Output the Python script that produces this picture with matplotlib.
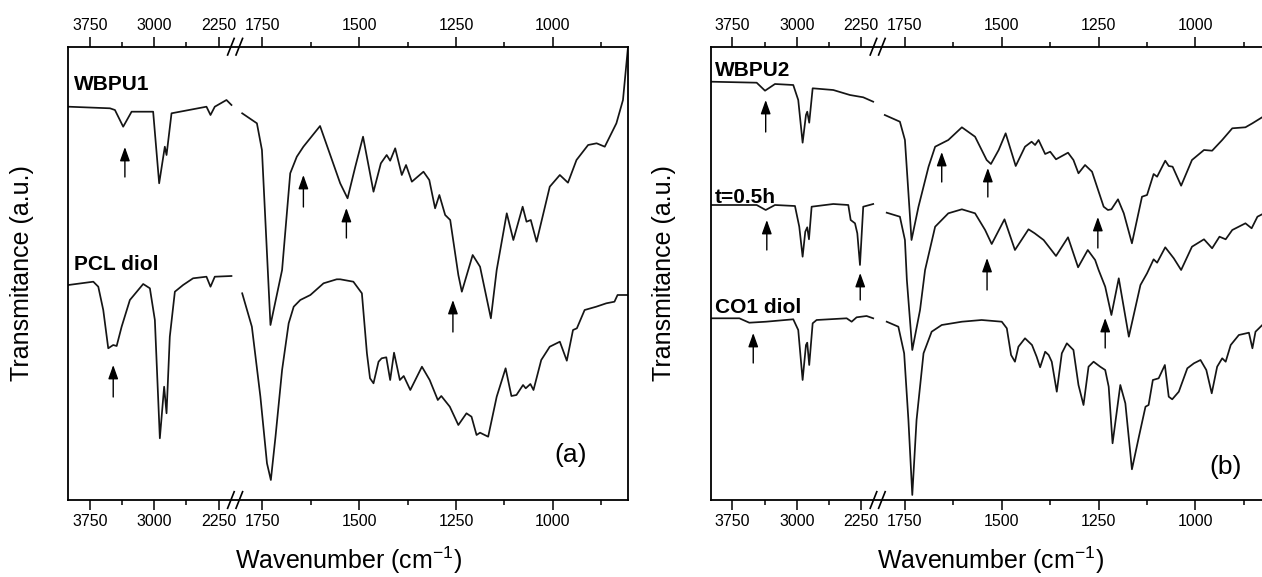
import numpy as np
import matplotlib
matplotlib.use('Agg')
import matplotlib.pyplot as plt
from matplotlib.ticker import FixedLocator, FixedFormatter, NullFormatter

plt.rcParams['font.family'] = ['Liberation Sans', 'DejaVu Sans']
plt.rcParams['mathtext.fontset'] = 'custom'
plt.rcParams['mathtext.rm'] = 'Liberation Sans'
plt.rcParams['mathtext.it'] = 'Liberation Sans:italic'

# ---- spectra (wavenumber in cm-1, transmittance in a.u.) ----
wbpu1_wn = [4000, 3516, 3458, 3362, 3264, 3013, 2943, 2877, 2857, 2799, 2392, 2345, 2295, 2159, 2101,
            1802, 1764, 1751, 1729, 1699, 1678, 1661, 1644, 1601, 1549, 1530, 1510, 1490, 1463, 1444,
            1429, 1420, 1407, 1390, 1379, 1364, 1334, 1319, 1304, 1293, 1278, 1265, 1244, 1235, 1207,
            1188, 1160, 1145, 1119, 1102, 1078, 1068, 1057, 1042, 1008, 982, 961, 939, 909, 887, 866,
            836, 819, 806]
wbpu1_t = [393.3, 391.7, 390, 373.3, 388.3, 388.3, 316.7, 353.3, 345, 386.7, 393.3, 385, 393.3, 400, 395,
           386.7, 376.7, 350, 175, 230, 326.7, 343.3, 353.3, 374, 316.7, 301.7, 333.3, 363.3, 308.3, 336.7,
           345, 339.3, 351.7, 325, 335, 318.3, 328.3, 320, 291.7, 305, 285, 280, 225, 208.3, 245,
           233.3, 181.7, 230, 286.7, 260, 293.3, 278.3, 280, 258.3, 313.3, 325, 317.3, 340, 355, 356.7, 353.3,
           376.7, 400, 453.3]

pcl_wn = [4000, 3710, 3652, 3594, 3536, 3478, 3438, 3380, 3284, 3129, 3051, 2993, 2935, 2885, 2857,
          2819, 2760, 2664, 2548, 2392, 2345, 2295, 2101,
          1802, 1777, 1755, 1738, 1728, 1716, 1699, 1682, 1669, 1652, 1626, 1592, 1558, 1549, 1515,
          1493, 1480, 1472, 1463, 1450, 1442, 1430, 1420, 1410, 1395, 1385, 1368, 1338, 1318, 1297,
          1288, 1266, 1244, 1223, 1210, 1197, 1188, 1167, 1145, 1122, 1107, 1094, 1077, 1070, 1058,
          1050, 1030, 1008, 982, 964, 948, 938, 918, 888, 862, 841, 833, 807]
pcl_t = [215, 218.3, 213.3, 190, 151.7, 155, 154, 173.3, 200, 216, 211.7, 180, 61.7, 113.3, 86.7,
         163.3, 208.3, 215, 221.7, 223.3, 213.3, 223.3, 224,
         206.7, 173.3, 103.3, 36.7, 20, 63.3, 130, 176.7, 193.3, 200, 205, 216.7, 220.7, 220.7, 218.3,
         206.7, 146.7, 121.7, 116.7, 138.3, 141.7, 142.7, 120, 147.3, 120, 124, 110, 133.3, 120, 100,
         104, 93.3, 75, 86.7, 83.3, 65, 67.3, 63.3, 103.3, 131.7, 104, 105, 115, 111.7, 116,
         110, 140, 153.3, 158.3, 139.3, 170, 171.7, 190, 193.3, 196.7, 198.3, 205, 205]

wbpu2_wn = [4000, 3468, 3371, 3255, 3042, 2984, 2933, 2894, 2879, 2856, 2816, 2576, 2382, 2227, 2111,
            1802, 1763, 1750, 1733, 1715, 1689, 1672, 1638, 1603, 1569, 1539, 1528, 1508, 1490, 1464,
            1440, 1423, 1414, 1405, 1388, 1375, 1360, 1329, 1315, 1302, 1285, 1267, 1237, 1226, 1217,
            1200, 1185, 1164, 1138, 1125, 1108, 1099, 1078, 1069, 1059, 1037, 1009, 978, 957, 931, 905,
            871, 853, 828, 805]
wbpu2_t = [418.3, 417.3, 409.3, 416, 415, 400, 357.3, 385, 388.3, 377.3, 411.7, 410, 405, 402.7, 398.3,
           385, 378.3, 360, 260, 293.3, 333.3, 353.3, 360, 372.7, 363.3, 340, 336, 350, 366.7, 334,
           353.3, 358.3, 355, 360, 346, 348.3, 340.7, 347.3, 340, 326.7, 335, 328.3, 293.3, 290, 290.7,
           300.7, 286.7, 256.7, 303.3, 305, 326, 323.3, 339.3, 334, 333.3, 314.3, 340, 350, 349.3, 360, 371.7,
           372.7, 376.7, 382.7, 386]

t05_wn = [4000, 3468, 3363, 3255, 3022, 2972, 2933, 2902, 2879, 2859, 2828, 2576, 2401, 2373, 2323,
          2296, 2265, 2227, 2111,
          1797, 1763, 1750, 1745, 1731, 1711, 1698, 1672, 1638, 1603, 1569, 1543, 1526, 1493, 1466,
          1431, 1415, 1392, 1360, 1329, 1303, 1278, 1259, 1250, 1233, 1217, 1198, 1172, 1142, 1125,
          1108, 1099, 1078, 1056, 1037, 1009, 978, 957, 938, 922, 905, 871, 855, 840, 823, 805]
t05_t = [295, 295, 290, 295, 294, 273.3, 243.3, 268.3, 272.7, 260.7, 293.3, 296, 295, 280, 276.7,
         266.7, 235, 293.3, 296,
         287.3, 283.3, 260, 220, 150, 190, 230, 273.3, 286.7, 290.7, 286.7, 270, 256, 280.7, 250,
         270.7, 266.7, 260, 244, 262.7, 232.7, 250, 240, 230, 213.3, 185, 221.7, 163.3, 215, 226.7,
         240.7, 237.3, 252.7, 241.7, 230, 253.3, 260.7, 251.7, 263.3, 260.7, 270, 276.7, 271.7, 283.3, 286.7, 289]

co1_wn = [4000, 3670, 3554, 3359, 3042, 2984, 2933, 2894, 2879, 2856, 2816, 2770, 2420, 2362, 2304,
          2188, 2111,
          1797, 1767, 1752, 1741, 1731, 1720, 1702, 1681, 1655, 1603, 1552, 1500, 1487, 1476, 1466,
          1457, 1440, 1422, 1410, 1401, 1388, 1379, 1371, 1358, 1345, 1332, 1315, 1302, 1289, 1276,
          1263, 1246, 1233, 1224, 1214, 1194, 1181, 1164, 1146, 1129, 1121, 1110, 1095, 1079, 1069,
          1060, 1043, 1021, 1004, 987, 972, 958, 944, 931, 922, 909, 888, 862, 853, 845, 823, 805]
co1_t = [181.7, 181.7, 177.3, 178.3, 180.7, 170, 120, 155, 157.3, 135, 176.7, 180, 181.7, 178.3, 182.7,
         184, 181.7,
         178.3, 173.3, 146.7, 80, 5, 80, 146.7, 168.3, 175, 178.3, 180, 178.3, 171.7, 145, 138.3,
         153.3, 161.7, 155, 143.3, 132.7, 148.3, 145, 138.3, 108.3, 146.7, 156.7, 150, 115, 95, 133.3,
         138.3, 133.3, 130, 113.3, 56.7, 115, 96.7, 30.7, 63.3, 93.3, 95, 120, 121.7, 135, 103.3,
         100.7, 108.3, 131.7, 136.7, 140, 130, 106.7, 133.3, 141.7, 138.3, 155, 165, 167.3, 151.7, 168.3, 176.7, 180]

# arrows: (wavenumber, tail, head)
arrows_a = [(3342, 323, 353), (1644, 293, 325), (1533, 262, 292), (3478, 103, 135), (1258, 168, 200)]
arrows_b = [(3363, 368, 400), (1655, 318, 348), (1536, 303, 332), (1252, 252, 283),
            (3350, 250, 280), (2262, 200, 227), (1538, 210, 242), (1233, 152, 182),
            (3508, 137, 167)]

major_ticks = [3750, 3000, 2250, 1750, 1500, 1250, 1000]
minor_ticks = [3375, 2625, 1625, 1375, 1125, 875]

# ---- broken wavenumber axis: 4000-2060 compressed, 1820-805 expanded ----
k_lo, k_hi, gap = 0.388, 0.086, 0.24
xp = np.array([0.0, 1820.0, 2060.0, 6000.0])
fp = np.array([0.0, 1820 * k_lo, 1820 * k_lo + gap, 1820 * k_lo + gap + (6000 - 2060) * k_hi])


def fwd(w):
    return np.interp(w, xp, fp)


def inv(u):
    return np.interp(u, fp, xp)


fig = plt.figure(figsize=(12.62, 5.77), dpi=100)
W, H = 1262, 577
ax_a = fig.add_axes([68.4 / W, 77 / H, 560 / W, 453.3 / H])
ax_b = fig.add_axes([711 / W, 77 / H, 560 / W, 453.3 / H])

line_kw = dict(color='#151515', lw=1.25)


def draw_spectrum(ax, wn, t):
    wn = np.array(wn, dtype=float)
    t = np.array(t, dtype=float)
    hi = wn > 1940
    ax.plot(wn[hi], t[hi], **line_kw)
    ax.plot(wn[~hi], t[~hi], **line_kw)


def style_axis(ax):
    ax.set_xscale('function', functions=(fwd, inv))
    ax.set_xlim(4000, 805)
    ax.set_ylim(0, 453.3)
    ax.xaxis.set_major_locator(FixedLocator(major_ticks))
    ax.xaxis.set_major_formatter(FixedFormatter([str(v) for v in major_ticks]))
    ax.xaxis.set_minor_locator(FixedLocator(minor_ticks))
    ax.xaxis.set_minor_formatter(NullFormatter())
    ax.tick_params(axis='x', which='both', direction='out', top=True, labeltop=True,
                   width=1.1, labelsize=11.5, pad=3.0)
    ax.tick_params(axis='x', which='major', length=7)
    ax.tick_params(axis='x', which='minor', length=3.6)
    ax.set_yticks([])
    for s in ax.spines.values():
        s.set_linewidth(1.3)
    ax.set_xlabel('Wavenumber (cm$^{-1}$)', fontsize=18, labelpad=11)
    ax.set_ylabel('Transmitance (a.u.)', fontsize=18, labelpad=25)

    # "//" marks at the axis break
    u0, u1 = fwd(4000), fwd(805)
    cx = (u0 - fwd(1940)) / (u0 - u1)
    wpx, hpx = 560.0, 453.3
    for yb in (0.0, 1.0):
        for off in (-4.2, 4.2):
            xs = [cx + (off - 3.3) / wpx, cx + (off + 3.3) / wpx]
            ys = [yb - 8.3 / hpx, yb + 8.3 / hpx]
            ax.plot(xs, ys, transform=ax.transAxes, color='black', lw=1.2, clip_on=False)


def draw_arrows(ax, arrows):
    for wn, tail, head in arrows:
        ax.annotate('', xy=(wn, head), xytext=(wn, tail),
                    arrowprops=dict(arrowstyle='-|>,head_length=0.7,head_width=0.25',
                                    color='black', lw=1.0, mutation_scale=12,
                                    shrinkA=0, shrinkB=0))


# panel (a)
draw_spectrum(ax_a, wbpu1_wn, wbpu1_t)
draw_spectrum(ax_a, pcl_wn, pcl_t)
draw_arrows(ax_a, arrows_a)
style_axis(ax_a)
ax_a.text(0.01, 0.9045, 'WBPU1', transform=ax_a.transAxes, fontsize=15, fontweight='bold', va='baseline')
ax_a.text(0.01, 0.507, 'PCL diol', transform=ax_a.transAxes, fontsize=15, fontweight='bold', va='baseline')
ax_a.text(0.896, 0.099, '(a)', transform=ax_a.transAxes, fontsize=19, ha='center', va='center')

# panel (b)
draw_spectrum(ax_b, wbpu2_wn, wbpu2_t)
draw_spectrum(ax_b, t05_wn, t05_t)
draw_spectrum(ax_b, co1_wn, co1_t)
draw_arrows(ax_b, arrows_b)
style_axis(ax_b)
ax_b.text(0.007, 0.935, 'WBPU2', transform=ax_b.transAxes, fontsize=15, fontweight='bold', va='baseline')
ax_b.text(0.007, 0.655, 't=0.5h', transform=ax_b.transAxes, fontsize=15, fontweight='bold', va='baseline')
ax_b.text(0.007, 0.4125, 'CO1 diol', transform=ax_b.transAxes, fontsize=15, fontweight='bold', va='baseline')
ax_b.text(0.918, 0.0735, '(b)', transform=ax_b.transAxes, fontsize=19, ha='center', va='center')

fig.savefig('out.png', dpi=100)
